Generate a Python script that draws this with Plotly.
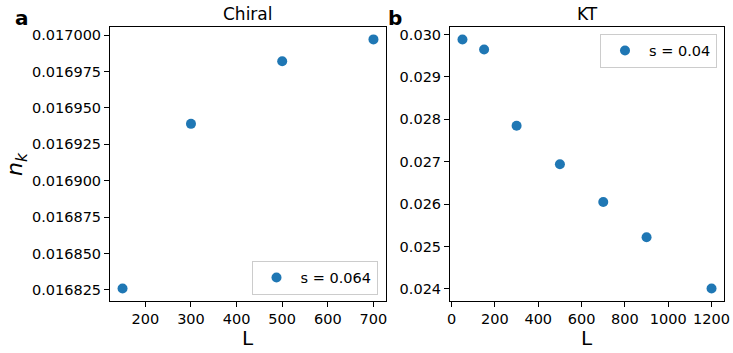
import plotly.graph_objects as go

# Data
L_chiral = [150, 300, 500, 700]
nk_chiral = [0.016826, 0.016939, 0.016982, 0.016997]
L_kt = [50, 150, 300, 500, 700, 900, 1200]
nk_kt = [0.029882, 0.029647, 0.027847, 0.026937, 0.026049, 0.025217, 0.024007]
label_chiral = "s = 0.064"
label_kt = "s = 0.04"

W, H = 733, 353
FONT = "DejaVu Sans"
BLUE = "#1f77b4"

def px(x):
    return x / W

def py(y):
    return 1 - y / H

fig = go.Figure()
fig.add_trace(go.Scatter(x=L_chiral, y=nk_chiral, mode="markers", name=label_chiral,
                         marker=dict(color=BLUE, size=10), xaxis="x", yaxis="y",
                         legend="legend", showlegend=True))
fig.add_trace(go.Scatter(x=L_kt, y=nk_kt, mode="markers", name=label_kt,
                         marker=dict(color=BLUE, size=10), xaxis="x2", yaxis="y2",
                         legend="legend2", showlegend=True))

axis_common = dict(showline=True, mirror=True, linecolor="black", linewidth=1,
                   ticks="outside", ticklen=5, tickcolor="black", tickwidth=1,
                   showgrid=False, zeroline=False, automargin=False,
                   tickfont=dict(family=FONT, size=14.5, color="black"))

legend_common = dict(bgcolor="rgba(255,255,255,0.8)", bordercolor="#cccccc", borderwidth=1,
                     itemwidth=38, font=dict(family=FONT, size=14.5, color="black"))

ytop, ybot = 27, 301
fig.update_layout(
    width=W, height=H, margin=dict(l=0, r=0, t=0, b=0, autoexpand=False),
    plot_bgcolor="white", paper_bgcolor="white", showlegend=True,
    font=dict(family=FONT, color="black"),
    xaxis=dict(domain=[px(110), px(386)], range=[122.5, 727.5], tick0=0, dtick=100,
               anchor="y", **axis_common),
    yaxis=dict(domain=[py(ybot), py(ytop)], range=[0.0168174, 0.0170055],
               tick0=0.016825, dtick=0.000025, tickformat=".6f", anchor="x", **axis_common),
    xaxis2=dict(domain=[px(450), px(724)], range=[-7.5, 1257.5], tick0=0, dtick=200,
                anchor="y2", **axis_common),
    yaxis2=dict(domain=[py(ybot), py(ytop)], range=[0.023713, 0.030176],
                tick0=0.024, dtick=0.001, tickformat=".3f", anchor="x2", **axis_common),
    legend=dict(x=px(377.5), y=py(294.5), xanchor="right", yanchor="bottom", **legend_common),
    legend2=dict(x=px(717), y=py(33.5), xanchor="right", yanchor="top", **legend_common),
)

annotations = [
    dict(text="Chiral", x=px(248), y=py(14), font=dict(size=17)),
    dict(text="KT", x=px(587), y=py(14), font=dict(size=17)),
    dict(text="<b>a</b>", x=px(22), y=py(18), font=dict(size=20)),
    dict(text="<b>b</b>", x=px(395), y=py(18), font=dict(size=20)),
    dict(text="L", x=px(248), y=py(338), font=dict(size=20)),
    dict(text="L", x=px(587), y=py(338), font=dict(size=20)),
    dict(text="<i>n</i><sub><i>k</i></sub>", x=px(16), y=py(164), font=dict(size=22), textangle=-90),
]
for a in annotations:
    a.update(xref="paper", yref="paper", showarrow=False, xanchor="center", yanchor="middle")
    a["font"].update(family=FONT, color="black")
fig.update_layout(annotations=annotations)

fig.write_html("out.html", config={"displayModeBar": False},
               post_script="document.body.style.margin='0';document.body.style.overflow='hidden';")
